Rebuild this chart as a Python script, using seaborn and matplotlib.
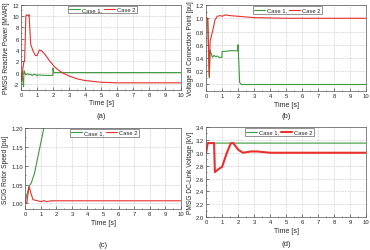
import numpy as np
import pandas as pd
import matplotlib
matplotlib.use('Agg')
import matplotlib.pyplot as plt
import seaborn as sns
from matplotlib.ticker import AutoMinorLocator

# (a) PMSG reactive power [MVAR]
t_a1 = [0, 0.1, 0.15, 0.18, 0.2, 0.25, 0.3, 0.4, 0.5, 0.6, 0.7, 0.8, 0.95, 1.0, 1.05, 1.5, 1.99, 2.0, 2.02, 2.05, 10]
q_a1 = [0, -1.0, -2.5, 0.2, 0.3, -0.1, -0.4, -0.2, -0.4, -0.3, -0.5, -0.3, -0.4, -0.6, -0.4, -0.5, -0.5, 0.8, 0.3, 0.0, 0.0]
t_a2 = [0, 0.05, 0.1, 0.18, 0.22, 0.3, 0.35, 0.45, 0.5, 0.6, 0.75, 0.9, 1.0, 1.15, 1.3, 1.5, 1.8, 2.1, 2.4, 2.7, 3.0, 3.5, 4.0, 5.0, 6.0, 7.0, 10]
q_a2 = [0, -1.5, 0.5, 2.0, 2.0, 10.0, 10.2, 10.0, 10.2, 5.0, 3.8, 3.0, 3.0, 4.0, 3.8, 3.2, 2.0, 1.0, 0.3, -0.2, -0.6, -1.1, -1.4, -1.7, -1.8, -1.8, -1.8]

# (b) voltage at connection point [pu]
t_b1 = [0, 0.1, 0.2, 0.25, 0.3, 0.4, 0.5, 0.6, 0.7, 0.8, 0.99, 1.0, 1.2, 1.5, 1.99, 2.0, 2.1, 2.2, 10]
v_b1 = [1.0, 1.0, 0.1, 0.52, 0.48, 0.41, 0.44, 0.42, 0.43, 0.41, 0.41, 0.5, 0.5, 0.51, 0.51, 0.6, 0.03, 0.0, 0.0]
t_b2 = [0, 0.1, 0.2, 0.25, 0.35, 0.45, 0.55, 0.7, 0.9, 1.0, 1.2, 1.5, 2.0, 3.0, 5.0, 10]
v_b2 = [1.0, 1.0, 0.12, 0.65, 0.75, 0.85, 0.97, 1.03, 1.04, 1.03, 1.05, 1.04, 1.03, 1.01, 1.0, 1.0]

# (c) SCIG rotor speed [pu]
t_c1 = [0, 0.25, 0.4, 0.6, 0.8, 1.0, 1.2, 1.5, 2.0]
w_c1 = [1.005, 1.045, 1.055, 1.08, 1.12, 1.16, 1.2, 1.26, 1.36]
t_c2 = [0, 0.1, 0.25, 0.35, 0.5, 0.7, 1.0, 1.2, 1.4, 1.7, 2.0, 10]
w_c2 = [1.005, 1.0, 1.045, 1.03, 1.01, 1.008, 1.005, 1.007, 1.005, 1.007, 1.007, 1.007]

# (d) PMSG DC-link voltage [kV]
t_d1 = [0, 0.1, 10]
u_d1 = [3.0, 3.15, 3.15]
t_d2 = [0, 0.1, 0.5, 0.55, 0.8, 1.0, 1.3, 1.55, 1.7, 2.0, 2.3, 2.8, 3.2, 4.0, 10]
u_d2 = [3.0, 3.15, 3.15, 2.7, 2.75, 2.78, 3.0, 3.15, 3.15, 3.05, 3.0, 3.02, 3.02, 3.0, 3.0]

green = '#3c9a3c'
red = '#e8302c'

sns.set_style('ticks')
plt.rcParams['font.family'] = ['Liberation Sans', 'DejaVu Sans']

fig = plt.figure(figsize=(3.7, 2.51), dpi=100)

panels = [
    # rect, data, ylim, yticks, fmt, ylabel, letter, letter y, legend x, red lw
    ([0.057, 0.639, 0.432, 0.339], (t_a1, q_a1, t_a2, q_a2), (-3, 12), np.arange(-2, 13, 2), '{:.0f}',
     'PMSG Reactive Power [MVAR]', '(a)', 0.534, 0.51, 0.8),
    ([0.557, 0.633, 0.432, 0.343], (t_b1, v_b1, t_b2, v_b2), (-0.1, 1.2), np.arange(0, 1.21, 0.2), '{:.1f}',
     'Voltage at Connection Point [pu]', '(b)', 0.534, 0.51, 0.8),
    ([0.068, 0.163, 0.421, 0.323], (t_c1, w_c1, t_c2, w_c2), (0.985, 1.2), np.arange(1.0, 1.201, 0.05), '{:.2f}',
     'SCIG Rotor Speed [pu]', '(c)', 0.022, 0.51, 0.8),
    ([0.557, 0.131, 0.432, 0.359], (t_d1, u_d1, t_d2, u_d2), (2.0, 3.4), np.arange(2.0, 3.41, 0.2), '{:.1f}',
     'PMSG DC-Link Voltage [kV]', '(d)', 0.026, 0.46, 1.5),
]

for rect, (x1, y1, x2, y2), ylim, yticks, fmt, ylabel, letter, ly, lx, rlw in panels:
    ax = fig.add_axes(rect)
    sns.lineplot(x=x1, y=y1, ax=ax, color=green, lw=0.8, label='Case 1,', estimator=None, sort=False)
    sns.lineplot(x=x2, y=y2, ax=ax, color=red, lw=rlw, label='Case 2', estimator=None, sort=False)
    ax.set_xlim(0, 10)
    ax.set_ylim(*ylim)
    ax.set_xticks(range(0, 11))
    ax.set_yticks(yticks)
    ax.set_yticklabels([fmt.format(v) for v in yticks])
    ax.xaxis.set_minor_locator(AutoMinorLocator(2))
    ax.yaxis.set_minor_locator(AutoMinorLocator(2))
    ax.tick_params(which='both', direction='in', labelsize=4.2, pad=1.5, width=0.4)
    ax.tick_params(which='major', length=2)
    ax.tick_params(which='minor', length=1)
    ax.grid(True, which='major', ls='--', lw=0.4, color='#c8c8c8')
    for s in ax.spines.values():
        s.set_linewidth(0.5)
        s.set_color('#555555')
    ax.set_xlabel('Time [s]', fontsize=5, labelpad=2)
    ax.set_ylabel(ylabel, fontsize=4.8, labelpad=1.5)
    leg = ax.legend(loc='upper center', bbox_to_anchor=(lx, 0.985), ncol=2, fontsize=4.2,
                    frameon=True, fancybox=False, handlelength=1.9, handletextpad=0.35,
                    columnspacing=0.3, borderpad=0.2, borderaxespad=0)
    leg.get_frame().set_linewidth(0.5)
    leg.get_frame().set_edgecolor('#444444')
    fig.text(rect[0] + rect[2] / 2, ly, letter, ha='center', va='center', fontsize=5.5)

fig.savefig('out.png', dpi=100)
